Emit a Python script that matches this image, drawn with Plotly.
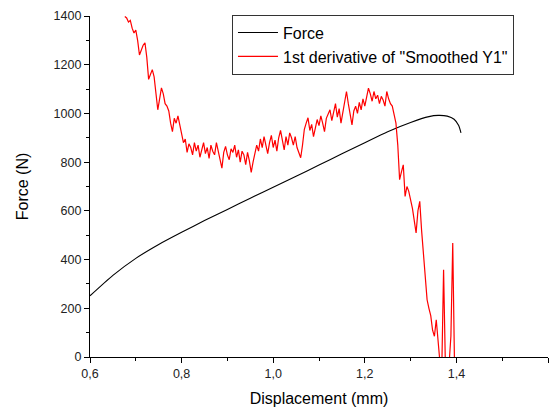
import plotly.graph_objects as go

# Force vs. displacement (tensile test)
force_disp = [0.60, 0.65, 0.70, 0.75, 0.80, 0.85, 0.90, 0.95, 1.00, 1.05, 1.10,
              1.15, 1.20, 1.25, 1.30, 1.34, 1.36, 1.38, 1.395, 1.405, 1.41]
force_n = [251, 335, 405, 462, 512, 560, 606, 652, 697, 742, 788,
           834, 880, 925, 963, 987, 992, 989, 976, 950, 920]

# First derivative of the smoothed force signal, sampled every 0.004 mm from 0.676 mm
deriv_start = 0.676
deriv_step = 0.004
deriv_vals = [
    # 0.676 - 0.808
    1398, 1392, 1375, 1382, 1350, 1330, 1342, 1300, 1240, 1262, 1280, 1290, 1230,
    1140, 1160, 1180, 1150, 1090, 1015, 1060, 1105, 1080, 1040, 1030, 1010, 960,
    925, 980, 960, 990, 950, 905, 880, 895,
    # 0.812 - 0.960
    840, 875, 860, 830, 880, 845, 870, 820, 855, 880, 835, 860, 815, 870, 845, 830,
    880, 840, 800, 775, 840, 865, 830, 810, 855, 840, 870, 820, 850, 800, 845, 830,
    790, 840, 805, 758, 800, 835,
    # 0.964 - 1.080
    870, 845, 895, 860, 905, 870, 835, 880, 910, 860, 890, 845, 900, 930, 880, 850,
    905, 870, 920, 900, 870, 905, 860, 840, 818, 870, 935, 960, 982, 930,
    # 1.084 - 1.264
    955, 905, 940, 975, 950, 990, 960, 925, 980, 1000, 1015, 970, 1000, 1040, 985,
    1020, 960, 1010, 1050, 1090, 1040, 990, 953, 1010, 1030, 1000, 1045, 1015, 1060,
    1030, 1070, 1104, 1080, 1050, 1090, 1060, 1075, 1040, 1070, 1055, 1030, 1090,
    1060, 1040, 1030, 995,
    # 1.268 - 1.396
    960, 870, 728, 760, 789, 659, 700, 680, 650, 610, 560, 509, 600, 639, 520, 427,
    330, 235, 200, 170, 110, 85, 153, 40, -20, -60, 358, -40, -80, -30, 85, 468, -50,
]
deriv_disp = [round(deriv_start + deriv_step * i, 3) for i in range(len(deriv_vals))]

x_ticks = [0.6, 0.8, 1.0, 1.2, 1.4, 1.6]
x_tick_text = ["0,6", "0,8", "1,0", "1,2", "1,4", "1,6"]
y_ticks = [0, 200, 400, 600, 800, 1000, 1200, 1400]
y_tick_text = [str(v) for v in y_ticks]

font_family = "Liberation Sans, Arial, sans-serif"

fig = go.Figure()
fig.add_trace(go.Scatter(
    x=force_disp, y=force_n, mode="lines", name="Force",
    line=dict(color="#000000", width=1.1, shape="spline", smoothing=0.6),
))
fig.add_trace(go.Scatter(
    x=deriv_disp, y=deriv_vals, mode="lines", name='1st derivative of "Smoothed Y1"',
    line=dict(color="#ff0000", width=1.2),
))

axis_common = dict(
    showline=True, linecolor="#000000", linewidth=1.2, mirror=False,
    ticks="outside", ticklen=5, tickwidth=1.2, tickcolor="#000000",
    showgrid=False, zeroline=False, automargin=False,
    tickfont=dict(family=font_family, size=12.5, color="#222222"),
)

fig.update_layout(
    width=556, height=409,
    margin=dict(l=90, r=8, t=16, b=52),
    paper_bgcolor="white", plot_bgcolor="white",
    font=dict(family=font_family, color="#111111"),
    showlegend=True,
    legend=dict(
        x=0.31, y=1.004, xanchor="left", yanchor="top",
        bgcolor="white", bordercolor="#333333", borderwidth=1,
        font=dict(family=font_family, size=16, color="#000000"),
        tracegroupgap=0, itemwidth=40,
    ),
    xaxis=dict(
        axis_common, range=[0.6, 1.6], tickvals=x_ticks, ticktext=x_tick_text,
        minor=dict(ticks="outside", ticklen=3, tickwidth=1, tickcolor="#000000", dtick=0.1),
        title=dict(text="Displacement (mm)", font=dict(family=font_family, size=16, color="#000000"),
                   standoff=12),
    ),
    yaxis=dict(
        axis_common, range=[0, 1400], tickvals=y_ticks, ticktext=y_tick_text,
        minor=dict(ticks="outside", ticklen=3, tickwidth=1, tickcolor="#000000", dtick=100),
        title=dict(text="Force (N)", font=dict(family=font_family, size=16, color="#000000"),
                   standoff=20),
    ),
)

fig.write_html("out.html")
